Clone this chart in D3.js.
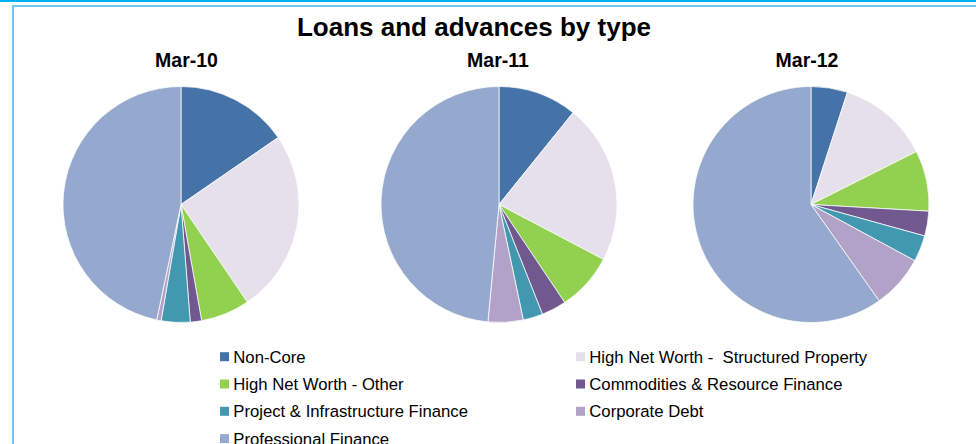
<!DOCTYPE html>
<html>
<head>
<meta charset="utf-8">
<script src="https://cdn.jsdelivr.net/npm/d3@7"></script>
<style>
  html, body { margin: 0; padding: 0; background: #fff; }
  svg { display: block; }
  text { font-family: "Liberation Sans", Arial, sans-serif; fill: #000; }
</style>
</head>
<body>
<svg id="chart" width="976" height="444"></svg>
<script>
// Loan book composition (% of total) per reporting date
const periods = ["Mar-10", "Mar-11", "Mar-12"];
const categories = [
  "Non-Core",
  "High Net Worth -  Structured Property",
  "High Net Worth - Other",
  "Commodities & Resource Finance",
  "Project & Infrastructure Finance",
  "Corporate Debt",
  "Professional Finance"
];
const mar10 = [15.4, 25.1, 6.7, 1.55, 3.95, 0.6, 46.7];
const mar11 = [10.8, 21.9, 7.9, 3.4, 2.7, 4.8, 48.5];
const mar12 = [5.0, 12.6, 8.3, 3.4, 3.6, 7.3, 59.8];
const seriesValues = [mar10, mar11, mar12];

const palette = ["#4573a7", "#e5e0ec", "#92d050", "#71588f", "#4198af", "#b2a2c7", "#95a9cf"];

const svg = d3.select("#chart");
const W = 976;

// frame
svg.append("rect").attr("x", 0).attr("y", 0).attr("width", W).attr("height", 2).attr("fill", "#00b0f0");
svg.append("path")
  .attr("d", "M13,446 L13,6 L980,6")
  .attr("fill", "none").attr("stroke", "#6cc9ef").attr("stroke-width", 2);

// title
svg.append("text")
  .attr("x", 474).attr("y", 36.3)
  .attr("text-anchor", "middle")
  .style("font-size", "26px").style("font-weight", "bold")
  .text("Loans and advances by type");

const color = d3.scaleOrdinal().domain(categories).range(palette);

// horizontal placement of the three pies
const xPos = d3.scalePoint().domain(periods).range([181, 811]).padding(0);
const radius = 118;
const cy = 204.5;

const pie = d3.pie().sort(null).value(d => d.v);
const arc = d3.arc().innerRadius(0).outerRadius(radius);

const labelDx = [5.5, -1, -4];

periods.forEach((p, i) => {
  const cx = i === 1 ? 499 : xPos(p);
  const g = svg.append("g").attr("transform", `translate(${cx},${cy})`);
  const data = categories.map((c, k) => ({ c, v: seriesValues[i][k] }));
  g.selectAll("path")
    .data(pie(data))
    .join("path")
    .attr("d", arc)
    .attr("fill", d => color(d.data.c))
    .attr("stroke", "#fff")
    .attr("stroke-width", 0.75);

  svg.append("text")
    .attr("x", cx + labelDx[i]).attr("y", 67.3)
    .attr("text-anchor", "middle")
    .style("font-size", "19.5px").style("font-weight", "bold")
    .text(p);
});

// legend: two columns, filled row by row
const legend = svg.append("g");
const colX = [220, 576];
const rowY = d3.scaleLinear().domain([0, 1]).range([362.7, 390]);
categories.forEach((c, k) => {
  const col = k % 2, row = Math.floor(k / 2);
  const x = colX[col], y = rowY(row);
  legend.append("rect")
    .attr("x", x).attr("y", y - 10.5)
    .attr("width", 9).attr("height", 9)
    .attr("fill", color(c));
  legend.append("text")
    .attr("x", x + 13.3).attr("y", y)
    .style("font-size", "16.7px")
    .style("white-space", "pre")
    .attr("xml:space", "preserve")
    .text(c);
});
</script>
</body>
</html>
